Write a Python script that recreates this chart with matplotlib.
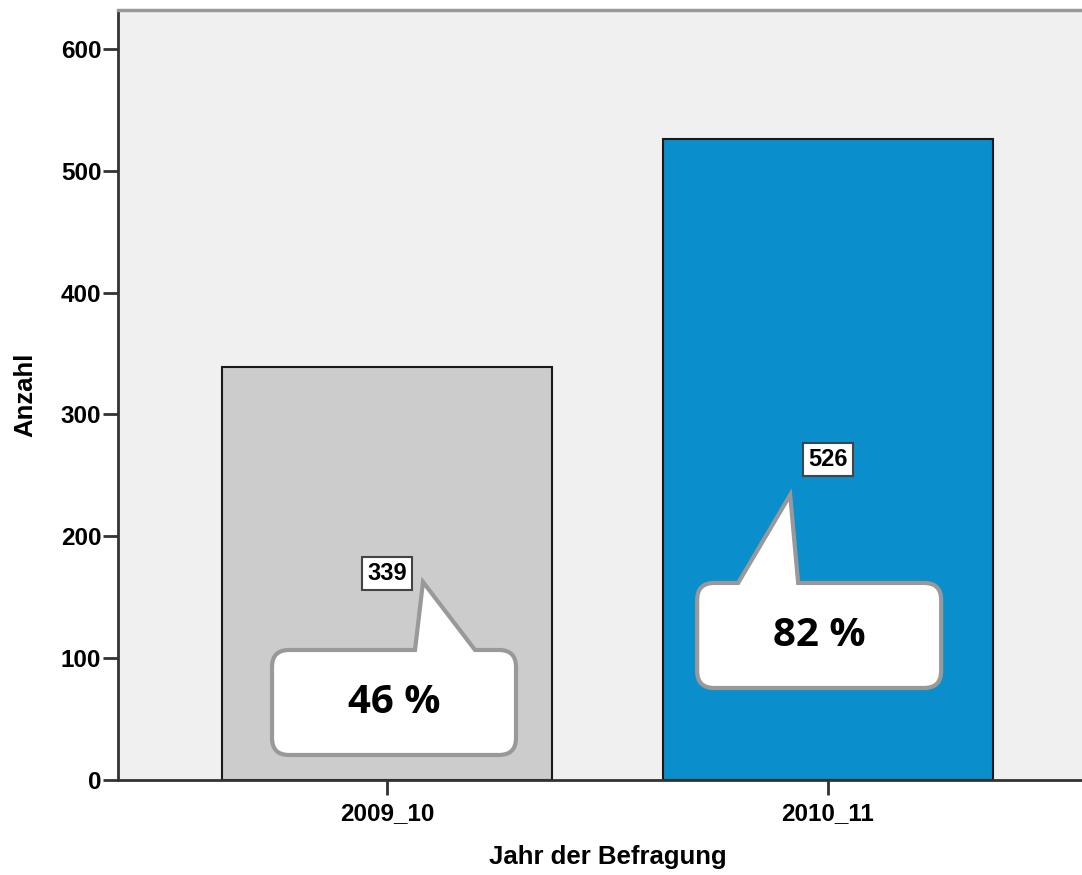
import numpy as np
import matplotlib.pyplot as plt
from matplotlib.path import Path
from matplotlib.patches import PathPatch
from matplotlib.transforms import ScaledTranslation

# data
categories = ['2009_10', '2010_11']
counts = [339, 526]
percent_labels = ['46 %', '82 %']
bar_colors = ['#cccccc', '#0a8ecc']

fig = plt.figure(figsize=(10.82, 8.75), dpi=100)
ax = fig.add_axes([0.109, 0.1086, 0.891, 0.88])
ax.set_facecolor('#f0f0f0')

x = np.arange(len(categories))
ax.bar(x, counts, width=0.75, color=bar_colors, edgecolor='#1a1a1a', linewidth=1.5, zorder=2)

ax.set_xlim(-0.61, 1.576)
ax.set_ylim(0, 632)
ax.set_yticks(range(0, 601, 100))
ax.set_xticks(x)
ax.set_xticklabels(categories)

for lab in ax.get_xticklabels() + ax.get_yticklabels():
    lab.set_family('Liberation Sans')
    lab.set_fontweight('bold')
    lab.set_fontsize(17.5)
ax.tick_params(axis='both', length=11, width=2, color='#333333')
ax.tick_params(axis='y', pad=1)
ax.tick_params(axis='x', pad=5)

ax.spines['right'].set_visible(False)
ax.spines['top'].set_color('#999999')
ax.spines['top'].set_linewidth(2.5)
for s in ['left', 'bottom']:
    ax.spines[s].set_color('#333333')
    ax.spines[s].set_linewidth(2)

ax.set_ylabel('Anzahl', family='Liberation Sans', fontweight='bold', fontsize=18.5)
ax.set_xlabel('Jahr der Befragung', family='Liberation Sans', fontweight='bold', fontsize=18.5)
ax.yaxis.set_label_coords(-0.084, 0.5)
ax.xaxis.set_label_coords(0.508, -0.084)

# value labels in the middle of each bar
for xi, c in zip(x, counts):
    ax.text(xi, c / 2, str(c), ha='center', va='center', family='Liberation Sans',
            fontweight='bold', fontsize=17, zorder=4,
            bbox=dict(boxstyle='square,pad=0.22', fc='white', ec='#444444', lw=1.5))


def callout_path(w, h, r, tail, flip):
    # rounded box centred at (0,0) with a tail on top, units in inches
    x0, x1, y0, y1 = -w / 2, w / 2, -h / 2, h / 2
    t0, t1, tip = tail
    if flip:
        t0, t1, tip = (-t1, -t0, (-tip[0], tip[1]))
    verts = [(x0 + r, y0), (x1 - r, y0), (x1, y0), (x1, y0 + r),
             (x1, y1 - r), (x1, y1), (x1 - r, y1),
             (t1, y1), tip, (t0, y1),
             (x0 + r, y1), (x0, y1), (x0, y1 - r),
             (x0, y0 + r), (x0, y0), (x0 + r, y0), (x0 + r, y0)]
    codes = [Path.MOVETO, Path.LINETO, Path.CURVE3, Path.CURVE3,
             Path.LINETO, Path.CURVE3, Path.CURVE3,
             Path.LINETO, Path.LINETO, Path.LINETO,
             Path.LINETO, Path.CURVE3, Path.CURVE3,
             Path.LINETO, Path.CURVE3, Path.CURVE3, Path.CLOSEPOLY]
    return Path(verts, codes)


box_pos = [(0.016, 63.6), (0.98, 118.6)]
tip_heights = [1.205, 1.405]
for i, (bx, by) in enumerate(box_pos):
    tr = fig.dpi_scale_trans + ScaledTranslation(bx, by, ax.transData)
    p = callout_path(2.44, 1.05, 0.17, (0.21, 0.81, (0.29, tip_heights[i])), i == 1)
    ax.add_patch(PathPatch(p, transform=tr, fc='white', ec='#999999', lw=3, zorder=5, clip_on=False))
    ax.text(bx, by, percent_labels[i], ha='center', va='center', family='Open Sans',
            fontweight='bold', fontsize=29, zorder=6)

fig.savefig('out.png', dpi=100)
